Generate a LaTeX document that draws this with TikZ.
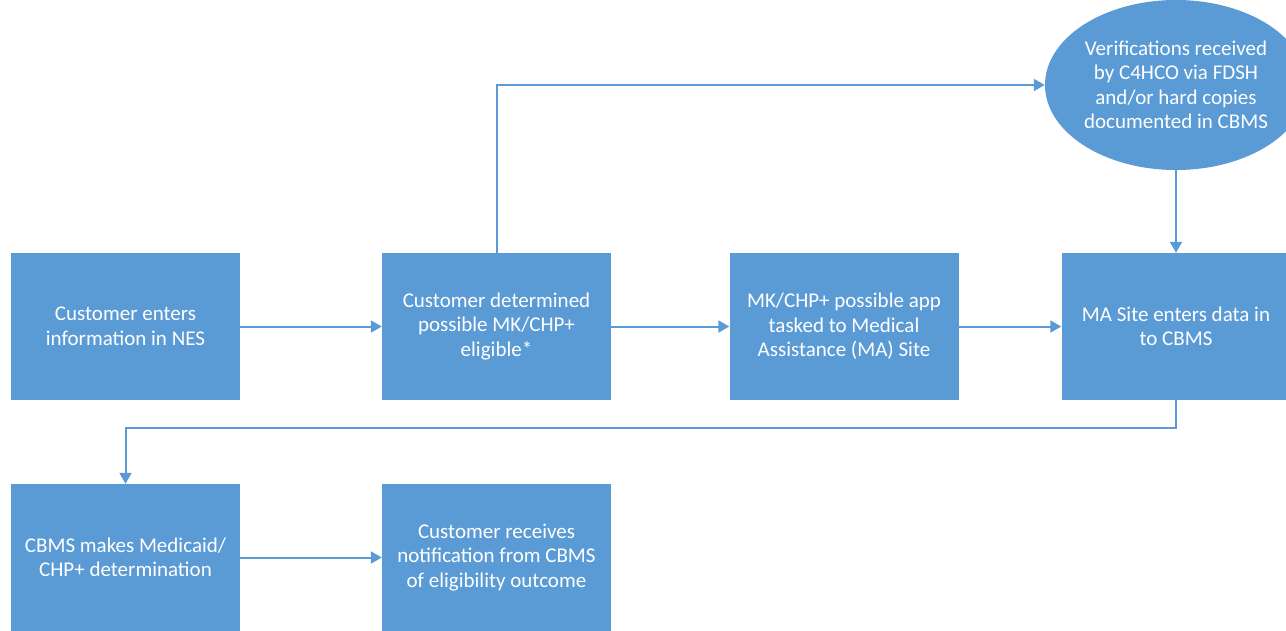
\documentclass[tikz,border=0pt]{standalone}
\usepackage{fontspec}
\setmainfont{Carlito}
\usetikzlibrary{shapes.geometric,arrows.meta}
\definecolor{boxblue}{HTML}{5B9BD5}
\tikzset{
  procbox/.style={rectangle, fill=boxblue, draw=none, minimum width=229pt, minimum height=147pt,
    text=white, align=center, font=\fontsize{21}{24.5}\selectfont, inner sep=0pt},
  verif/.style={ellipse, fill=boxblue, draw=none, minimum width=262pt, minimum height=170pt,
    text=white, align=center, font=\fontsize{21}{24.5}\selectfont, inner sep=0pt},
  conn/.style={draw=boxblue, line width=2pt, -{Triangle[length=11pt,width=12pt]}}
}
\begin{document}
\begin{tikzpicture}[x=1pt,y=-1pt]
\useasboundingbox (0,0) rectangle (1286,630);
\clip (0,0) rectangle (1286,630);
\node[procbox] (b1) at (125.5,326.5) {Customer enters\\information in NES};
\node[procbox] (b2) at (496.5,326.5) {Customer determined\\possible MK/CHP+\\eligible*};
\node[procbox] (b3) at (844,326.5) {MK/CHP+ possible app\\tasked to Medical\\Assistance (MA) Site};
\node[procbox] (b4) at (1176,326.5) {MA Site enters data in\\to CBMS};
\node[verif] (v) at (1176,85) {Verifications received\\by C4HCO via FDSH\\and/or hard copies\\documented in CBMS};
\node[procbox] (b5) at (125.5,557.5) {CBMS makes Medicaid/\\CHP+ determination};
\node[procbox] (b6) at (496.5,557.5) {Customer receives\\notification from CBMS\\of eligibility outcome};
\coordinate (turn) at (1176,428);
\draw[conn] (b1.east) -- (b2.west);
\draw[conn] (b2.east) -- (b3.west);
\draw[conn] (b3.east) -- (b4.west);
\draw[conn] (b2.north) |- (v.west);
\draw[conn] (v.south) -- (b4.north);
\draw[conn] (b4.south) -- (turn) -| (b5.north);
\draw[conn] (b5.east) -- (b6.west);
\end{tikzpicture}
\end{document}
